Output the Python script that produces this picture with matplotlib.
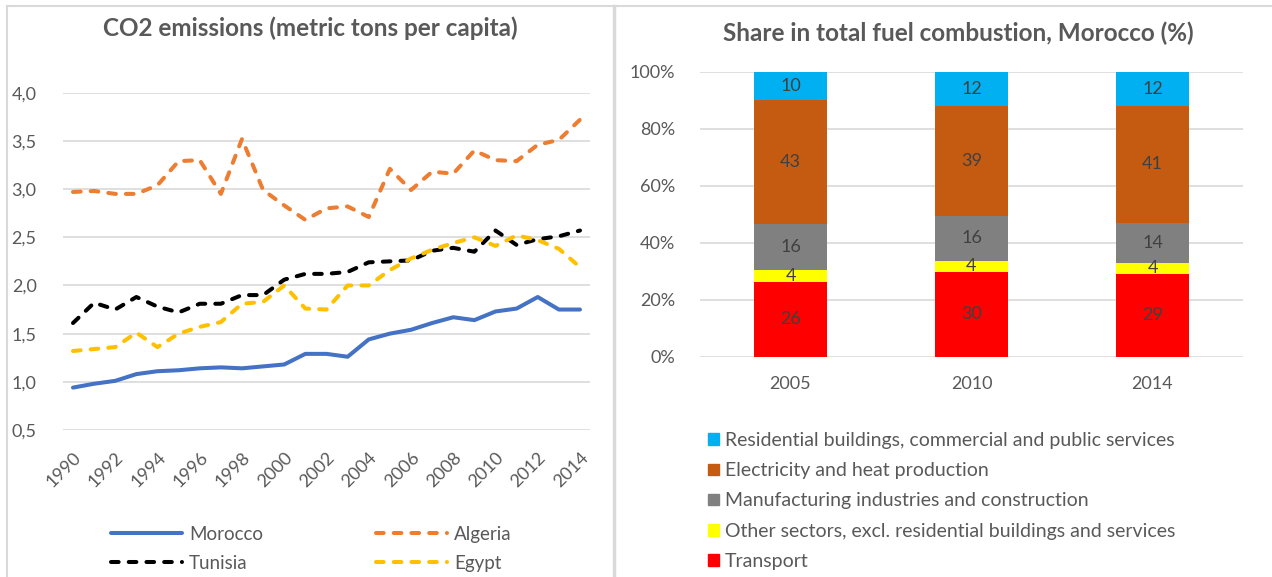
import numpy as np
import matplotlib.pyplot as plt
from matplotlib.lines import Line2D
from matplotlib.patches import Patch

plt.rcParams['font.family'] = ['Lato', 'DejaVu Sans']

# CO2 emissions, metric tons per capita
years = list(range(1990, 2015))
morocco = [0.94, 0.98, 1.01, 1.08, 1.11, 1.12, 1.14, 1.15, 1.14, 1.16, 1.18, 1.29, 1.29,
           1.26, 1.44, 1.50, 1.54, 1.61, 1.67, 1.64, 1.73, 1.76, 1.88, 1.75, 1.75]
algeria = [2.97, 2.98, 2.95, 2.95, 3.04, 3.29, 3.30, 2.95, 3.52, 2.99, 2.83, 2.68, 2.80,
           2.82, 2.71, 3.21, 2.99, 3.18, 3.16, 3.40, 3.30, 3.29, 3.46, 3.51, 3.72]
tunisia = [1.61, 1.82, 1.75, 1.88, 1.78, 1.72, 1.81, 1.81, 1.90, 1.90, 2.06, 2.12, 2.12,
           2.14, 2.24, 2.25, 2.26, 2.36, 2.39, 2.35, 2.57, 2.42, 2.48, 2.51, 2.57]
egypt = [1.32, 1.34, 1.36, 1.51, 1.36, 1.50, 1.57, 1.62, 1.81, 1.83, 2.00, 1.76, 1.75,
         2.00, 2.00, 2.16, 2.28, 2.37, 2.44, 2.50, 2.41, 2.52, 2.47, 2.38, 2.19]

# Morocco share in total fuel combustion (%)
share_years = ['2005', '2010', '2014']
transport = [26, 30, 29]
other_sectors = [4, 4, 4]
manufacturing = [16, 16, 14]
electricity = [43, 39, 41]
residential = [10, 12, 12]

W, H = 1272, 577
fig = plt.figure(figsize=(W / 100, H / 100), dpi=100)
gray_txt = '#595959'
grid_c = '#D9D9D9'
fs = 13.5


def px_axes(x0, y0, x1, y1):
    return fig.add_axes([x0 / W, 1 - y1 / H, (x1 - x0) / W, (y1 - y0) / H])


# panel borders
fig.add_artist(Line2D([7 / W, 7 / W], [0, 1 - 6 / H], color=grid_c, lw=1.5))
fig.add_artist(Line2D([7 / W, 1], [1 - 6 / H, 1 - 6 / H], color=grid_c, lw=1.5))
fig.add_artist(Line2D([614 / W, 614 / W], [0, 1 - 6 / H], color=grid_c, lw=2.5))

# ---- left: line chart
ax = px_axes(63, 92.7, 590, 430)
dash = (0, (1.9, 2.5))
ax.plot(years, morocco, color='#4472C4', lw=2.9, solid_capstyle='round', label='Morocco')
ax.plot(years, algeria, color='#ED7D31', lw=2.9, ls=dash, dash_capstyle='round', label='Algeria')
ax.plot(years, tunisia, color='black', lw=2.9, ls=dash, dash_capstyle='round', label='Tunisia')
ax.plot(years, egypt, color='#FFC000', lw=2.9, ls=dash, dash_capstyle='round', label='Egypt')
ax.set_ylim(0.5, 4.0)
ax.set_xlim(1990 - 10 / 21.125, 2014 + 10 / 21.125)
ax.set_yticks(np.arange(0.5, 4.01, 0.5))
ax.set_yticklabels([f'{v:.1f}'.replace('.', ',') for v in np.arange(0.5, 4.01, 0.5)])
ax.set_xticks(years[::2])
ax.set_xticklabels([str(y) for y in years[::2]], rotation=45, ha='right', va='top',
                   rotation_mode='anchor')
ax.grid(axis='y', color=grid_c, lw=1.2)
ax.set_axisbelow(True)
for s in ax.spines.values():
    s.set_visible(False)
ax.tick_params(length=0, labelsize=13, labelcolor=gray_txt)
ax.tick_params(axis='y', pad=19)
ax.tick_params(axis='x', pad=14)
fig.text(310 / W, 1 - 28 / H, 'CO2 emissions (metric tons per capita)', ha='center', va='center',
         fontsize=17.5, fontweight='bold', color=gray_txt)

h, l = ax.get_legend_handles_labels()
order = [0, 2, 1, 3]
fig.legend([h[i] for i in order], [l[i] for i in order], ncol=2, loc='upper left',
           bbox_to_anchor=(111 / W, 1 - 526 / H), frameon=False, fontsize=fs,
           labelcolor=gray_txt, handlelength=3.8, handletextpad=0.37, columnspacing=6.0,
           labelspacing=0.64, borderpad=0, borderaxespad=0)

# ---- right: 100% stacked bars
bx = px_axes(700, 71.7, 1243, 356.7)
series = [transport, other_sectors, manufacturing, electricity, residential]
names = ['Transport', 'Other sectors, excl. residential buildings and services',
         'Manufacturing industries and construction', 'Electricity and heat production',
         'Residential buildings, commercial and public services']
colors = ['#FF0000', '#FFFF00', '#808080', '#C55A11', '#00B0F0']
totals = np.sum(series, axis=0)
xpos = np.arange(len(share_years))
bottom = np.zeros(len(share_years))
for vals, name, c in zip(series, names, colors):
    pct = np.array(vals) / totals * 100
    bx.bar(xpos, pct, 0.4, bottom=bottom, color=c, label=name, zorder=2)
    for x, b, p, v in zip(xpos, bottom, pct, vals):
        bx.text(x, b + p / 2, str(v), ha='center', va='center', fontsize=13, color='#404040')
    bottom += pct
bx.set_xlim(-0.5, 2.5)
bx.set_ylim(0, 100)
bx.set_yticks(range(0, 101, 20))
bx.set_yticklabels([f'{v}%' for v in range(0, 101, 20)])
bx.set_xticks(xpos)
bx.set_xticklabels(share_years)
bx.grid(axis='y', color=grid_c, lw=1.2)
bx.set_axisbelow(True)
for s in bx.spines.values():
    s.set_visible(False)
bx.tick_params(length=0, labelsize=13, labelcolor=gray_txt)
bx.tick_params(axis='y', pad=18)
bx.tick_params(axis='x', pad=14)
fig.text(958 / W, 1 - 33 / H, 'Share in total fuel combustion, Morocco (%)', ha='center',
         va='center', fontsize=17.5, fontweight='bold', color=gray_txt)

handles = [Patch(color=c) for c in colors][::-1]
fig.legend(handles, names[::-1], loc='upper left', bbox_to_anchor=(708 / W, 1 - 432 / H),
           frameon=False, fontsize=14, labelcolor=gray_txt, handlelength=0.58,
           handleheight=0.53, handletextpad=0.3, labelspacing=0.68, borderpad=0,
           borderaxespad=0)

fig.savefig('out.png', dpi=100)
